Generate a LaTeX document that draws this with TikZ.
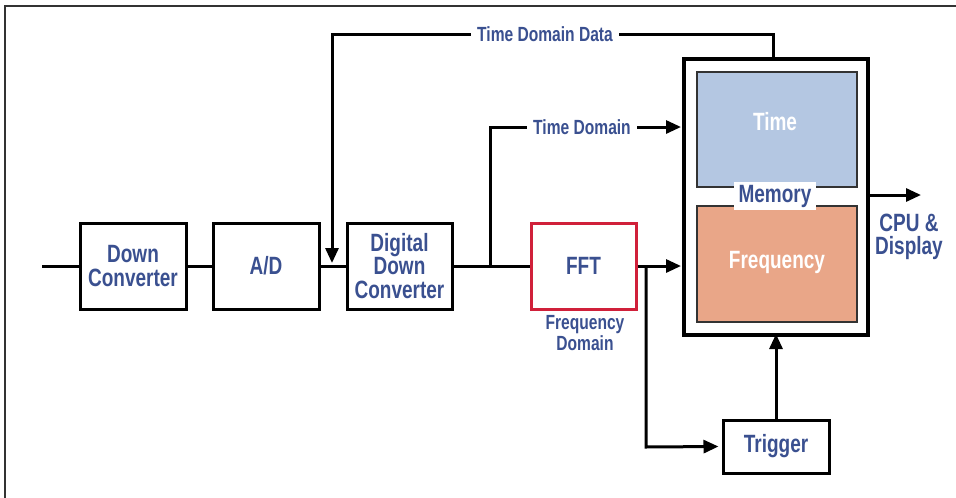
\documentclass[tikz,border=0pt]{standalone}
\usepackage{fontspec}
\setmainfont{Liberation Sans}[FakeStretch=0.76]
\usetikzlibrary{arrows.meta}
\definecolor{txtblue}{HTML}{3A5090}
\definecolor{fftred}{HTML}{D0203A}
\definecolor{timeblue}{HTML}{B4C7E2}
\definecolor{freqorange}{HTML}{E9A688}
\definecolor{frame}{HTML}{333333}
\tikzset{
  blk/.style={draw=black, line width=3pt, minimum width=106pt, minimum height=86pt, inner sep=0pt,
    text=txtblue, font=\bfseries\fontsize{25}{23.5}\selectfont, align=center},
  wire/.style={line width=3pt, black},
  arr/.style={wire, -{Triangle[length=15pt,width=13pt]}},
  lbl/.style={text=txtblue, font=\bfseries\fontsize{20.5}{18.5}\selectfont, align=center, inner sep=0pt},
  wlbl/.style={lbl, fill=white, inner xsep=6pt, inner ysep=2pt},
  inner/.style={draw=frame, line width=2pt, minimum width=160pt, inner sep=0pt,
    text=white, font=\bfseries\fontsize{25}{24}\selectfont}
}
\begin{document}
\begin{tikzpicture}[x=1pt,y=-1pt]
\useasboundingbox (0,0) rectangle (956,498);
% page frame
\draw[frame, line width=1.5pt] (5,498) -- (5,6) -- (956,6);

% memory block
\node[draw=black, line width=4pt, minimum width=184pt, minimum height=276pt] (mem) at (776,197) {};
\node[inner, fill=timeblue, minimum height=115pt] (time) at (777,129.5) {};
\node[text=white, font=\bfseries\fontsize{25}{24}\selectfont] (timet) at (775,122) {Time};
\node[inner, fill=freqorange, minimum height=116pt] (freq) at (777,263.5) {};
\node[text=white, font=\bfseries\fontsize{25}{24}\selectfont] (freqt) at (777,262) {Frequency};
\node[fill=white, text=txtblue, font=\bfseries\fontsize{25}{24}\selectfont, inner xsep=5pt, inner ysep=3pt] (memt) at (775,196) {Memory};

% blocks
\node[blk] (dc) at (133,266) {Down\\Converter};
\node[blk] (ad) at (266,266) {A/D};
\node[blk, minimum width=105pt] (ddc) at (399.5,266) {Digital\\Down\\Converter};
\node[blk, draw=fftred, minimum width=105pt] (fft) at (583.5,266) {FFT};
\node[blk, minimum height=53pt] (trig) at (776,446.5) {Trigger};

% coordinates
\coordinate (in) at (42,266);
\coordinate (tddtop) at (773,34);
\coordinate (adin) at (332,34);
\coordinate (adtip) at (332,263);
\coordinate (br1) at (490,266);
\coordinate (br1top) at (490,127);
\coordinate (memtd) at (681,127);
\coordinate (memfd) at (681,266);
\coordinate (br2) at (646,266);
\coordinate (br2bot) at (646,447);
\coordinate (cpu) at (921,195);

% connectors
\draw[wire] (in) -- (dc.west);
\draw[wire] (dc.east) -- (ad.west);
\draw[wire] (ad.east) -- (ddc.west);
\draw[wire] (ddc.east) -- (fft.west);
\draw[arr] (mem.north -| tddtop) -- (tddtop) -- (adin) -- (adtip);
\node[wlbl] (tdd) at (545,34) {Time Domain Data};
\draw[arr] (br1) -- (br1top) -- (memtd);
\node[wlbl] (td) at (582,127) {Time Domain};
\draw[arr] (fft.east) -- (memfd);
\draw[arr] (br2) -- (br2bot) -- ([xshift=-3pt]trig.west);
\draw[arr] (trig.north) -- ([yshift=3pt]mem.south);
\draw[arr] (mem.east |- cpu) -- (cpu);

% labels
\node[lbl] (fdl) at (585,333) {Frequency\\Domain};
\node[lbl, font=\bfseries\fontsize{25}{23.5}\selectfont] (cput) at (909,237) {CPU \&\\Display};
\end{tikzpicture}
\end{document}
